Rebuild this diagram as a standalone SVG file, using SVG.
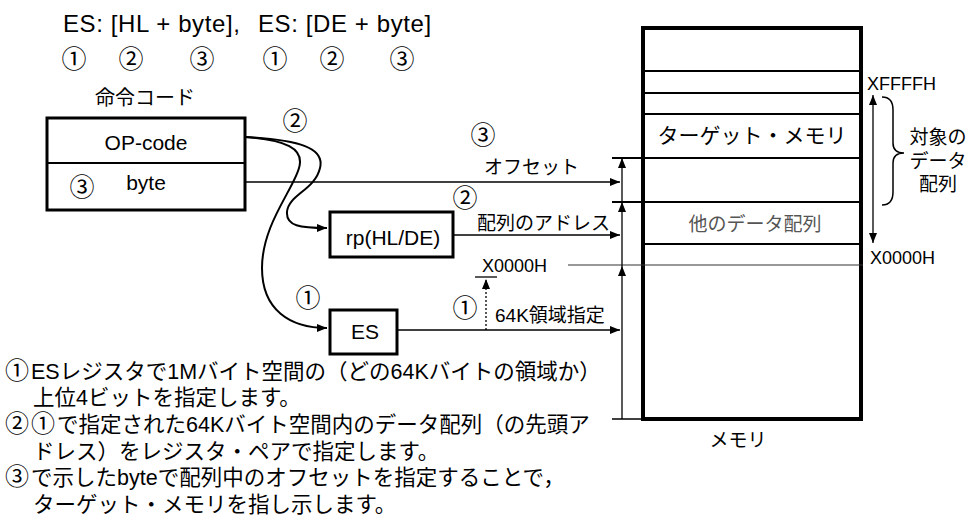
<svg xmlns="http://www.w3.org/2000/svg" width="969" height="523" viewBox="0 0 969 523">
<defs>
<marker id="ah" markerUnits="userSpaceOnUse" markerWidth="12" markerHeight="10" refX="10" refY="4" orient="auto-start-reverse">
<path d="M0,0 L10,4 L0,8 z" fill="#000"/>
</marker>
<style>
text{font-family:"Liberation Sans","Noto Sans CJK JP",sans-serif;fill:#000}
.cn{font-family:"Noto Sans CJK JP","DejaVu Sans",sans-serif;font-size:25px;text-anchor:middle}
.ci{font-family:"Noto Sans CJK JP","DejaVu Sans",sans-serif;font-size:24px;letter-spacing:2px}
.box{fill:#fff;stroke:#000;stroke-width:3}
.ln{fill:none;stroke:#000;stroke-width:1.3}
.arr{fill:none;stroke:#000;stroke-width:1.3;marker-end:url(#ah)}
.crv{fill:none;stroke:#000;stroke-width:2;marker-end:url(#ah)}
.mid{font-size:19px}
.m{text-anchor:middle}
.note{font-size:21.5px}
</style>
</defs>
<rect width="969" height="523" fill="#fff"/>

<g id="header">
<text x="63" y="32" font-size="24" letter-spacing="0.6">ES: [HL + byte],</text>
<text x="258" y="32" font-size="24" letter-spacing="0.6">ES: [DE + byte]</text>
<text class="cn" x="74" y="68">①</text>
<text class="cn" x="131" y="68">②</text>
<text class="cn" x="202" y="68">③</text>
<text class="cn" x="275" y="68">①</text>
<text class="cn" x="332" y="68">②</text>
<text class="cn" x="402" y="68">③</text>
</g>

<g id="opcode">
<text class="m" x="145" y="105" font-size="20">命令コード</text>
<rect class="box" x="47" y="118" width="198" height="92"/>
<line x1="47" y1="163" x2="245" y2="163" stroke="#000" stroke-width="2"/>
<text class="m" x="146" y="150" font-size="21">OP-code</text>
<text class="m" x="146" y="190" font-size="21">byte</text>
<text class="cn" x="82" y="196">③</text>
</g>

<g id="rp">
<rect class="box" x="330" y="212" width="123" height="45"/>
<text class="m" x="393" y="245" font-size="21">rp(HL/DE)</text>
</g>

<g id="es">
<rect class="box" x="330" y="310" width="67" height="44"/>
<text class="m" x="365" y="339" font-size="21">ES</text>
</g>

<g id="memory">
<rect x="643" y="28" width="218" height="391" fill="#fff" stroke="#000" stroke-width="4"/>
<g stroke="#000" stroke-width="2">
<line x1="643" y1="71" x2="861" y2="71"/>
<line x1="643" y1="93" x2="861" y2="93"/>
<line x1="643" y1="114" x2="861" y2="114"/>
<line x1="612" y1="158" x2="861" y2="158"/>
<line x1="612" y1="202" x2="861" y2="202"/>
<line x1="643" y1="244" x2="861" y2="244"/>
<line x1="612" y1="419" x2="643" y2="419" stroke-width="1.5"/>
</g>
<line x1="568" y1="265" x2="863" y2="265" stroke="#333" stroke-width="1.2"/>
<text class="m" x="752" y="143" font-size="21">ターゲット・メモリ</text>
<text class="m mid" x="755" y="231" style="fill:#555">他のデータ配列</text>
<text class="m mid" x="738" y="447">メモリ</text>
<text x="867" y="90" font-size="18">XFFFFH</text>
<text x="870" y="264" font-size="18">X0000H</text>
</g>

<g id="target-label">
<path d="M882,97 Q893,97 893,110 L893,143 Q893,153 904,153 Q893,153 893,163 L893,192 Q893,205 882,205" fill="none" stroke="#000" stroke-width="1.5"/>
<text class="m mid" x="938" y="144">対象の</text>
<text class="m mid" x="938" y="168">データ</text>
<text class="m mid" x="938" y="191">配列</text>
</g>

<g id="connectors">
<path class="crv" d="M245,137 C300,140 325,148 320,168 C315,190 288,195 287,212 C286,226 300,228 327,228"/>
<path class="crv" d="M245,137 C285,140 305,148 299,168 C293,190 262,225 262,268 C262,310 290,328 327,328"/>
<line class="arr" x1="245" y1="182" x2="620" y2="182"/>
<line class="arr" x1="453" y1="235" x2="620" y2="235"/>
<line class="arr" x1="397" y1="330" x2="620" y2="330"/>
<line class="arr" x1="622" y1="419" x2="622" y2="266"/>
<line class="arr" x1="622" y1="266" x2="622" y2="202"/>
<line class="arr" x1="622" y1="202" x2="622" y2="158"/>
<line x1="873" y1="95" x2="873" y2="243" stroke="#000" stroke-width="1.3" marker-start="url(#ah)" marker-end="url(#ah)"/>
<line x1="486" y1="330" x2="486" y2="279" stroke="#000" stroke-width="1.3" stroke-dasharray="2,2" marker-end="url(#ah)"/>
<line class="ln" x1="475" y1="277" x2="497" y2="277"/>
</g>

<g id="connector-labels">
<text class="cn" x="295" y="130">②</text>
<text class="cn" x="483" y="144">③</text>
<text class="mid" x="484" y="174">オフセット</text>
<text class="cn" x="465" y="207">②</text>
<text class="mid" x="477" y="230">配列のアドレス</text>
<text x="482" y="272" font-size="18">X0000H</text>
<text class="cn" x="308" y="307">①</text>
<text class="cn" x="465" y="317">①</text>
<text class="mid" x="495" y="322">64K領域指定</text>
</g>

<g id="notes">
<text class="note" x="5" y="379"><tspan class="ci">①</tspan>ESレジスタで1Mバイト空間の（どの64Kバイトの領域か）</text>
<text class="note" x="33" y="405">上位4ビットを指定します。</text>
<text class="note" x="5" y="432"><tspan class="ci">②①</tspan>で指定された64Kバイト空間内のデータ配列（の先頭ア</text>
<text class="note" x="33" y="459">ドレス）をレジスタ・ペアで指定します。</text>
<text class="note" x="5" y="485"><tspan class="ci">③</tspan>で示したbyteで配列中のオフセットを指定することで，</text>
<text class="note" x="33" y="512">ターゲット・メモリを指し示します。</text>
</g>
</svg>
